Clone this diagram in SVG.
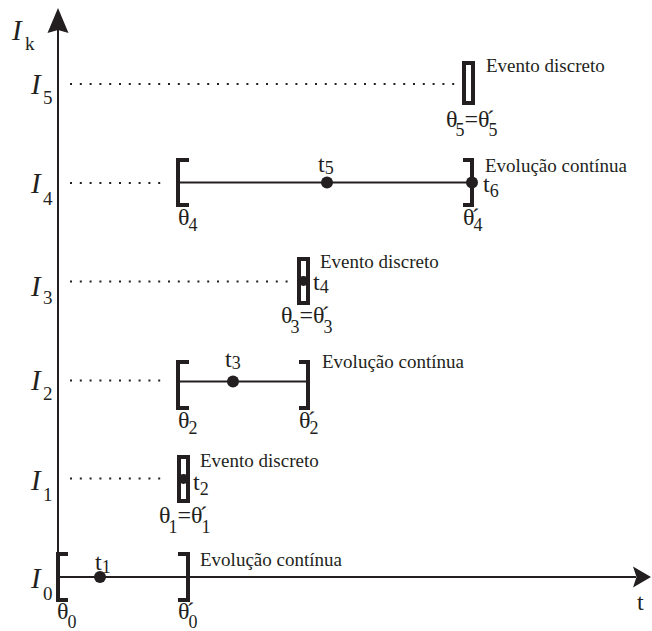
<svg xmlns="http://www.w3.org/2000/svg" width="652" height="631" viewBox="0 0 652 631">
<style>
.ax{stroke:#231f20;stroke-width:2;fill:none}
.ln{stroke:#231f20;stroke-width:2;fill:none}
.br{stroke:#231f20;stroke-width:4;fill:none;stroke-linejoin:miter;stroke-linecap:butt}
.bx{stroke:#231f20;stroke-width:4;fill:#fff}
.dt{stroke:#231f20;stroke-width:2;stroke-dasharray:2 7.8;fill:none}
.pt{fill:#231f20}
text{font-family:"Liberation Serif","Times New Roman",serif;fill:#231f20}
.I{font-size:29px;font-style:italic}
.Is{font-size:19px;font-style:normal}
.th{font-size:24px}
.sb{font-size:18px}
.lb{font-size:19px}
</style>
<g id="axes">
<line class="ax" x1="58" y1="578" x2="58" y2="28"/>
<polygon class="pt" points="58,8 68.5,33 58,30 47.5,33"/>
<line class="ax" x1="57" y1="577" x2="636" y2="577"/>
<polygon class="pt" points="651,577 633,566.5 636.5,577 633,587.5"/>
<text class="I" x="12" y="40">I</text><text class="Is" x="25" y="50">k</text>
<text class="lb" x="637" y="610" style="font-size:24px">t</text>
</g>
<g id="connectors">
<line class="dt" x1="70" y1="84" x2="456" y2="84"/>
<line class="dt" x1="70" y1="183" x2="166" y2="183"/>
<line class="dt" x1="70" y1="281.5" x2="290" y2="281.5"/>
<line class="dt" x1="70" y1="380.5" x2="168" y2="380.5"/>
<line class="dt" x1="70" y1="478.5" x2="168" y2="478.5"/>
</g>
<g id="level-I5">
<text class="I" x="31" y="94">I</text><text class="Is" x="43" y="104">5</text>
<rect class="bx" x="464" y="63" width="9" height="40"/>
<text class="lb" x="486" y="72">Evento discreto</text>
<text class="th" x="446" y="127">θ<tspan class="sb" dx="-2" dy="9">5</tspan><tspan dy="-9">=θ</tspan><tspan dx="-3">´</tspan><tspan class="sb" dx="-6" dy="9">5</tspan></text>
</g>
<g id="level-I4">
<text class="I" x="31" y="193">I</text><text class="Is" x="43" y="205">4</text>
<line class="ln" x1="178" y1="182.5" x2="472" y2="182.5"/>
<path class="br" d="M189 160H178V205H189"/>
<path class="br" d="M463 160H472V205H463"/>
<circle class="pt" cx="327" cy="182.5" r="6"/>
<circle class="pt" cx="472" cy="182.5" r="6"/>
<text class="th" x="318" y="172">t<tspan class="sb" dy="2">5</tspan></text>
<text class="th" x="483" y="192">t<tspan class="sb" dy="5">6</tspan></text>
<text class="lb" x="485" y="172">Evolução contínua</text>
<text class="th" x="178" y="225">θ<tspan class="sb" dx="-1" dy="6">4</tspan></text>
<text class="th" x="463" y="225">θ<tspan dx="-3">´</tspan><tspan class="sb" dx="-6" dy="6">4</tspan></text>
</g>
<g id="level-I3">
<text class="I" x="31" y="296">I</text><text class="Is" x="43" y="304">3</text>
<rect class="bx" x="299" y="259" width="9" height="44"/>
<circle class="pt" cx="303.5" cy="281" r="5"/>
<text class="lb" x="320" y="268">Evento discreto</text>
<text class="th" x="313" y="290">t<tspan class="sb" dy="3">4</tspan></text>
<text class="th" x="281" y="323">θ<tspan class="sb" dx="-2" dy="10">3</tspan><tspan dy="-10">=θ</tspan><tspan dx="-3">´</tspan><tspan class="sb" dx="-6" dy="10">3</tspan></text>
</g>
<g id="level-I2">
<text class="I" x="31" y="390">I</text><text class="Is" x="43" y="400">2</text>
<line class="ln" x1="178" y1="381.5" x2="308" y2="381.5"/>
<path class="br" d="M189 362H178V408H189"/>
<path class="br" d="M299 362H308V408H299"/>
<circle class="pt" cx="233" cy="381.5" r="6"/>
<text class="th" x="225" y="367">t<tspan class="sb" dy="2">3</tspan></text>
<text class="lb" x="322" y="368">Evolução contínua</text>
<text class="th" x="178" y="428">θ<tspan class="sb" dx="-1" dy="6">2</tspan></text>
<text class="th" x="299" y="428">θ<tspan dx="-3">´</tspan><tspan class="sb" dx="-6" dy="6">2</tspan></text>
</g>
<g id="level-I1">
<text class="I" x="31" y="490">I</text><text class="Is" x="43" y="501">1</text>
<rect class="bx" x="179" y="457" width="9" height="44"/>
<circle class="pt" cx="183.5" cy="479" r="5"/>
<text class="lb" x="200" y="467">Evento discreto</text>
<text class="th" x="193" y="490">t<tspan class="sb" dy="5">2</tspan></text>
<text class="th" x="159" y="523">θ<tspan class="sb" dx="-2" dy="10">1</tspan><tspan dy="-10">=θ</tspan><tspan dx="-3">´</tspan><tspan class="sb" dx="-6" dy="10">1</tspan></text>
</g>
<g id="level-I0">
<text class="I" x="31" y="588">I</text><text class="Is" x="43" y="600">0</text>
<path class="br" d="M68 554H58V600H68"/>
<path class="br" d="M178 554H188V600H178"/>
<circle class="pt" cx="100" cy="577" r="6"/>
<text class="th" x="95" y="570">t<tspan class="sb" dy="3">1</tspan></text>
<text class="lb" x="200" y="566">Evolução contínua</text>
<text class="th" x="57" y="619">θ<tspan class="sb" dx="-1" dy="9">0</tspan></text>
<text class="th" x="178" y="619">θ<tspan dx="-3">´</tspan><tspan class="sb" dx="-6" dy="9">0</tspan></text>
</g>
</svg>
